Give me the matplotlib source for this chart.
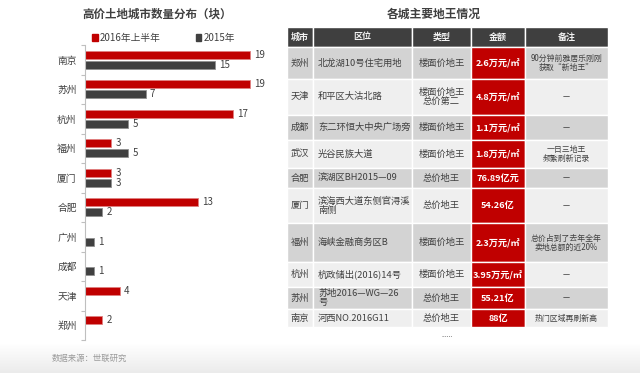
import numpy as np
import matplotlib
matplotlib.use("Agg")
import matplotlib.pyplot as plt
from matplotlib.patches import Patch

plt.rcParams['font.family'] = ['Noto Sans CJK SC', 'DejaVu Sans']

# ---------------- data ----------------
cities = ["南京", "苏州", "杭州", "福州", "厦门", "合肥", "广州", "成都", "天津", "郑州"]
h1_2016 = [19, 19, 17, 3, 3, 13, 0, 0, 4, 2]
y_2015 = [15, 7, 5, 5, 3, 2, 1, 1, 0, 0]
series_names = ["2016年上半年", "2015年"]
left_title = "高价土地城市数量分布（块）"

right_title = "各城主要地王情况"
table_header = ["城市", "区位", "类型", "金额", "备注"]
t_city = ["郑州", "天津", "成都", "武汉", "合肥", "厦门", "福州", "杭州", "苏州", "南京"]
t_loc = ["北龙湖10号住宅用地", "和平区大沽北路", "东二环恒大中央广场旁", "光谷民族大道",
         "滨湖区BH2015—09", "滨海西大道东侧官浔溪\n南侧", "海峡金融商务区B",
         "杭政储出(2016)14号", "苏地2016—WG—26\n号", "河西NO.2016G11"]
t_type = ["楼面价地王", "楼面价地王\n总价第二", "楼面价地王", "楼面价地王", "总价地王",
          "总价地王", "楼面价地王", "楼面价地王", "总价地王", "总价地王"]
t_amount = ["2.6万元/㎡", "4.8万元/㎡", "1.1万元/㎡", "1.8万元/㎡", "76.89亿元",
            "54.26亿", "2.3万元/㎡", "3.95万元/㎡", "55.21亿", "88亿"]
t_note = ["90分钟前雅居乐刚刚\n获取“新地王”", "—", "—", "一日三地王\n频繁刷新记录", "—",
          "—", "总价占到了去年全年\n卖地总额的近20%", "—", "—", "热门区域再刷新高"]
more_text = "......"
source = "数据来源：世联研究"

# ---------------- layout / style ----------------
W, H = 640, 373
RED = "#c00000"
DARK = "#404040"
TXT = "#404040"
fig = plt.figure(figsize=(W / 100, H / 100), dpi=100)

# background gradient at the bottom
bg = fig.add_axes([0, 0, 1, 1], zorder=-10)
grad = np.ones((H, 1, 3))
ys = np.arange(H)
shade = np.where(ys > 343, 1 - 0.08 * (ys - 343) / (H - 343), 1.0)
grad[:, 0, :] = shade[:, None]
bg.imshow(grad, extent=[0, 1, 0, 1], aspect='auto', origin='upper')
bg.axis('off')

# ---------------- left bar chart ----------------
ax = fig.add_axes([85 / W, (H - 340) / H, 185 / W, 295 / H])
idx = np.arange(len(cities))
off, bh = 0.17, 0.28
for vals, sign, col, ec in [(h1_2016, -1, RED, "#e08080"), (y_2015, 1, DARK, "#909090")]:
    v = np.array(vals, dtype=float)
    m = v > 0
    bars = ax.barh(idx[m] + sign * off, v[m], height=bh, color=col, edgecolor=ec, linewidth=0.6)
    ax.bar_label(bars, labels=[str(int(x)) for x in v[m]], padding=3, fontsize=7, color=TXT)

ax.set_xlim(0, 21.3)
ax.set_ylim(len(cities) - 0.5, -0.5)
ax.set_yticks(idx)
ax.set_yticklabels(cities, fontsize=7, color=TXT)
ax.set_yticks(np.arange(len(cities) + 1) - 0.5, minor=True)
ax.tick_params(axis='y', which='major', length=0, pad=6)
ax.tick_params(axis='y', which='minor', length=3, color="#bfbfbf", width=0.8)
ax.set_xticks([])
for s in ["top", "right", "bottom"]:
    ax.spines[s].set_visible(False)
ax.spines["left"].set_color("#bfbfbf")
ax.spines["left"].set_linewidth(0.8)

fig.text(157 / W, 1 - 14 / H, left_title, ha='center', va='center', fontsize=8.3,
         color=TXT, weight='bold')
handles = [Patch(color=RED), Patch(color=DARK)]
fig.legend(handles, series_names, loc='center left', bbox_to_anchor=(92 / W, 1 - 38 / H),
           ncol=2, frameon=False, fontsize=7, handlelength=0.6, handleheight=0.6,
           handletextpad=0.2, columnspacing=3.6, labelcolor=TXT, borderaxespad=0, borderpad=0)

fig.text(52 / W, 1 - 358 / H, source, ha='left', va='center', fontsize=6, color="#9a9a9a")

# ---------------- right table ----------------
fig.text(434 / W, 1 - 14 / H, right_title, ha='center', va='center', fontsize=8.5,
         color=TXT, weight='bold')
tx0, tx1, ty0, ty1 = 287, 608, 27, 343
axt = fig.add_axes([tx0 / W, (H - ty1) / H, (tx1 - tx0) / W, (ty1 - ty0) / H])
axt.axis('off')
col_w = [26, 99, 59, 54, 83]
row_h = [20, 32, 36, 25, 28, 20, 35, 39, 25, 22, 18, 16]

rows = [list(r) for r in zip(t_city, t_loc, t_type, t_amount, t_note)]
cell_text = [table_header] + rows + [["", "", "", "", ""]]
tbl = axt.table(cellText=cell_text, cellLoc='center', bbox=[0, 0, 1, 1])
tbl.auto_set_font_size(False)
GRAY, LIGHT, MORE = "#d3d3d3", "#efefef", "#c9c9c9"
nrows = len(cell_text)
for (r, c), cell in tbl.get_celld().items():
    cell.set_width(col_w[c])
    cell.set_height(row_h[r])
    cell.set_edgecolor("white")
    cell.set_linewidth(1.0)
    t = cell.get_text()
    t.set_fontsize(6.7)
    t.set_color(TXT)
    t.set_linespacing(1.0)
    if r == 0:
        cell.set_facecolor("#3f3f3f")
        t.set_color("#f2f2f2")
        t.set_weight('bold')
        t.set_fontsize(6.5)
    elif r == nrows - 1:
        cell.set_facecolor(MORE)
        cell.visible_edges = 'open'
    else:
        cell.set_facecolor(GRAY if r % 2 == 1 else LIGHT)
        if c == 3:
            cell.set_facecolor(RED)
            t.set_color("white")
            t.set_weight('bold')
            t.set_fontsize(6.6)
        if c == 1:
            cell.set_text_props(ha='left')
            cell.PAD = 0.05
        if c == 4:
            t.set_fontsize(5.7)
axt.text(0.5, (row_h[-1] / 2) / sum(row_h), more_text, ha='center', va='center',
         fontsize=5, color="#666666", transform=axt.transAxes)

fig.savefig("out.png", dpi=100)
